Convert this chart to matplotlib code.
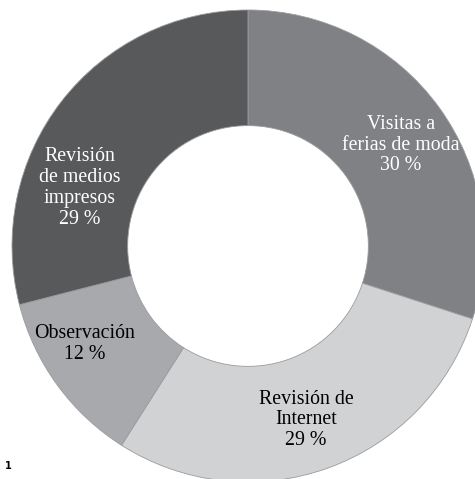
import matplotlib
matplotlib.use("Agg")
from matplotlib import pyplot as plt

labels = ["Visitas a\nferias de moda", "Revisión de\nInternet", "Observación", "Revisión\nde medios\nimpresos"]
values = [30, 29, 12, 29]
colors = ["#808184", "#d1d2d4", "#a7a9ac", "#58595b"]
textColors = ["white", "black", "black", "white"]

# label centres in pixels (x from left, y from top), centre of ring is at (248, 246)
labelPix = [(401, 145), (306, 420), (85, 344), (80, 188)]

cx, cy, R = 248, 246, 236
W, H = 475, 479

fig = plt.figure(figsize=(W/100, H/100), dpi=100)
ax = fig.add_axes([0, 0, 1, 1])
ax.pie(values, colors=colors, startangle=90, counterclock=False, radius=1,
       wedgeprops=dict(width=0.49, linewidth=0.6, edgecolor="#9a9b9d"))
ax.set_aspect("auto")
ax.set_xlim(-cx/R, (W-cx)/R)
ax.set_ylim((cy-H)/R, cy/R)
ax.axis("off")

for lab, val, (px, py), tc in zip(labels, values, labelPix, textColors):
    ax.text((px-cx)/R, (cy-py)/R, lab+"\n{} %".format(val), ha="center", va="center",
            color=tc, fontsize=14.3, family="Liberation Serif", linespacing=1.12)

fig.text(5/W, 1-466/H, "1", fontsize=7, fontweight="bold", ha="left", va="center")

fig.savefig("out.png", dpi=100)
